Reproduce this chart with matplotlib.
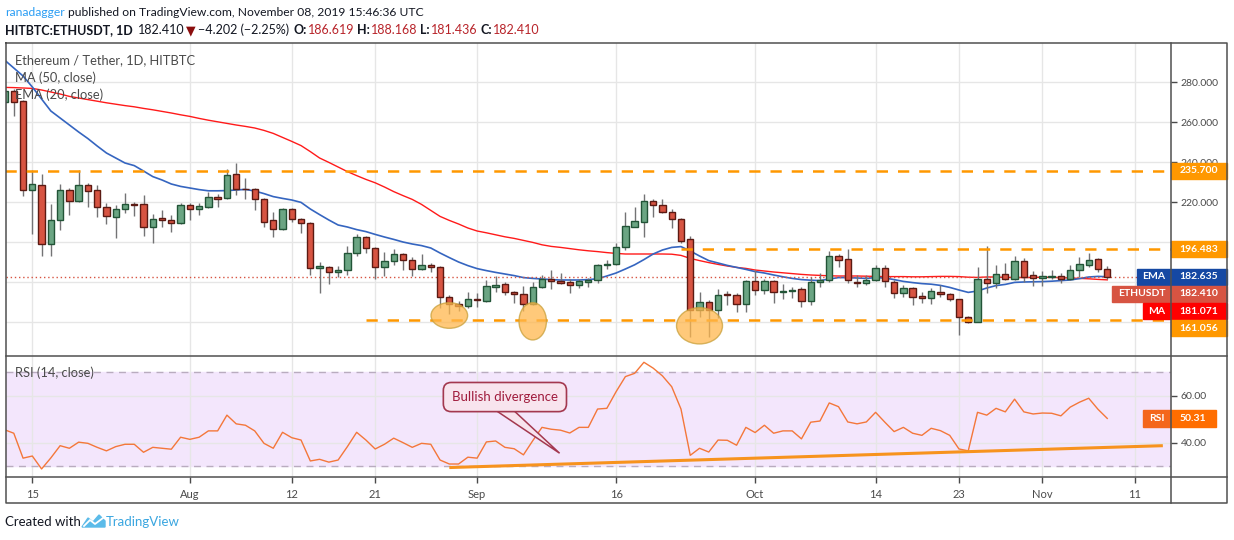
import numpy as np
import pandas as pd
import matplotlib
matplotlib.use('Agg')
import matplotlib.pyplot as plt
import matplotlib.transforms as mtransforms
from matplotlib.patches import Ellipse, Rectangle, Polygon
from matplotlib.lines import Line2D

plt.rcParams['font.family'] = ['Lato', 'DejaVu Sans']

# daily candles, HitBTC ETH/USDT, 2019-07-12 .. 2019-11-08
dates = pd.date_range('2019-07-12', '2019-11-08', freq='D')

opens = [270, 275.5, 270.5, 226, 228.5, 199, 211, 226, 220.7, 228.3,
         226, 217.3, 212.3, 216.3, 218.8, 218.8, 207.3, 211.8, 210.8, 209.7,
         218.5, 216.7, 217.7, 222.5, 221.8, 233.8, 226.7, 226.7, 221.3, 210.8,
         206.3, 216.3, 211.3, 209.3, 186.8, 187.7, 184.8, 185.8, 194.3, 202.3,
         196.8, 187.3, 190.3, 193.8, 190.8, 186.3, 188.3, 187.3, 172.7, 169,
         168.2, 171.7, 170.7, 177.7, 178.8, 174.8, 173.8, 168.8, 177.3, 181.3,
         180.5, 180, 178.3, 180.2, 180.8, 188.3, 188.8, 197.3, 207.7, 210.2,
         220.3, 218.3, 215.2, 211.3, 201.3, 166, 169.8, 166, 173.8, 173.3,
         168.8, 180.3, 175.8, 180.3, 174.8, 175.3, 176.3, 170.3, 179.8, 181,
         192.8, 191.3, 180.2, 179.3, 181, 186.8, 180.2, 174.3, 176.8, 173,
         171.8, 174.8, 173.8, 171.3, 162.3, 160.2, 181.3, 179.3, 183.8, 181.3,
         190.3, 183.3, 181.8, 182.3, 183, 181.3, 186, 188.3, 191.3, 186.619]
highs = [277, 276.5, 271, 236, 234, 219, 229, 227, 236, 229.5,
         228.3, 219.3, 218.5, 224.5, 220, 223.5, 214, 216, 213.7, 219.5,
         219.3, 219.3, 225.2, 224, 236.7, 239.3, 232, 227.2, 221.8, 215,
         217, 217.2, 212, 210, 190.2, 188, 188, 198, 204, 203,
         197.3, 194.8, 196.3, 194.3, 192.3, 193.8, 189.3, 188, 173.5, 170.7,
         174.8, 174.3, 181, 183, 179.8, 175.5, 178, 180, 183.5, 186,
         184.3, 181.3, 181.3, 182, 189, 191, 199.7, 215.2, 217.7, 224,
         221.3, 221.3, 216.3, 211.8, 203, 174.8, 171, 176.7, 175.5, 174.7,
         181, 186, 181.7, 181, 179, 177.5, 177.3, 182.3, 184.3, 195.7,
         194, 196.5, 183.3, 183.3, 188.5, 188.5, 181, 178.5, 177.7, 175.2,
         177, 178.5, 174.5, 171.5, 163.2, 187.7, 198, 188.5, 189.3, 193,
         191.8, 185.7, 185.7, 186, 184.3, 188.5, 192.7, 194.3, 191.8, 188.168]
lows = [266, 263, 223, 204, 193, 193, 206, 213.5, 220, 217.5,
        212.7, 209, 202, 214.5, 213, 203, 199.3, 207.3, 205.2, 209,
        211, 213.5, 217, 217.7, 221.5, 223.5, 221.3, 216, 207.7, 202.7,
        206, 210, 204.3, 183.5, 174.7, 178.8, 182.5, 183.5, 193.2, 194.7,
        181.3, 183, 188.5, 186, 183, 186, 185.2, 166.8, 163.8, 165.7,
        166.8, 167.7, 170.2, 175.2, 173.5, 169.7, 165.5, 168.3, 176.8, 176.3,
        179, 174.3, 177, 177.3, 179.5, 186.3, 188.5, 196, 207.5, 202.7,
        212.7, 214.7, 206.8, 199.3, 152.3, 162.3, 152.7, 161.8, 168.3, 164.8,
        165.2, 173.5, 174.2, 169.7, 171.3, 172, 167.7, 168.5, 177.7, 180.2,
        187.3, 179.7, 177.7, 178.3, 180.7, 177.7, 171.8, 172.7, 168.5, 169.7,
        169, 172.7, 170.7, 153.5, 159.3, 160, 174.7, 176.8, 181, 181,
        180.2, 178, 178, 181.5, 179.3, 181, 182.3, 187.7, 185.2, 181.436]
closes = [275.5, 270, 226, 229, 199, 211, 226, 220.5, 228.3, 225.3,
          217.3, 212.8, 216.3, 218.8, 218.4, 207.3, 211.3, 210.8, 209.7, 218.5,
          216.7, 218, 222.5, 221.7, 233.3, 226.3, 226.3, 221.3, 210.2, 206.3,
          216.3, 211.3, 209.3, 186.8, 188, 184.8, 186, 194.3, 202.3, 196.8,
          187.3, 190.3, 193.8, 190.8, 186.3, 188.3, 187.3, 172.7, 169, 168.2,
          171.3, 171, 178, 178.5, 174.8, 173.8, 168.8, 177.3, 181.3, 180.5,
          179.7, 178.3, 180.5, 180.8, 188.3, 189, 197.3, 208, 210.3, 220.3,
          218.3, 215.2, 211.3, 200.7, 166, 169.8, 166, 173.3, 173.3, 168.8,
          180.3, 175.8, 180.3, 174.8, 175.3, 176, 170.3, 179.8, 181, 192.8,
          191, 181, 179.3, 181, 186.8, 180.5, 174.3, 176.8, 172.7, 171.8,
          175.5, 173.8, 171.3, 162.3, 160.2, 181.3, 179.3, 183.8, 181.3, 190.3,
          182.7, 181.8, 183, 183, 181.3, 186, 188.8, 191, 186.6, 182.41]

ma50 = [277.3, 277.2, 277, 276.8, 276, 275, 274, 272.8, 272, 271.2,
        270.4, 269.6, 268.9, 268.2, 267.6, 266.8, 266.1, 265.3, 264.5, 263.6,
        262.8, 261.8, 260.9, 260.1, 259.3, 258.5, 257.8, 257, 255.8, 254.3,
        252.3, 250.3, 248.2, 245.2, 242, 239.8, 237.5, 235.2, 233.2, 231.3,
        229.6, 227.5, 225.2, 223.2, 221.3, 218.8, 215.8, 212.8, 210.8, 209,
        207, 205.5, 204.6, 203.6, 202.6, 201.8, 200.8, 199.8, 198.6, 197.8,
        197.3, 196.7, 196.1, 195.6, 195.2, 194.7, 194.3, 194, 194, 194,
        194, 194, 193.9, 193.3, 191.8, 190.7, 189.7, 188.8, 188, 187.3,
        186.8, 186, 185.5, 185, 184.6, 184.2, 183.8, 183.5, 183.3, 183.1,
        183, 183, 183, 182.9, 182.8, 182.7, 182.7, 182.7, 182.6, 182.6,
        182.7, 182.8, 182.8, 182.7, 182.4, 182.3, 182.5, 182.5, 182.3, 182.3,
        182.2, 182.3, 182.4, 182.3, 182.2, 182, 181.8, 181.6, 181.3, 181.071]
ema20 = [291, 287, 283, 277.5, 271.5, 265.5, 262, 258.5, 255, 251.7,
         248, 244.5, 242, 239.5, 238.2, 235.5, 232.7, 231, 229, 227.8,
         227, 226.2, 225.6, 225.6, 225.7, 226, 226.3, 225.5, 224.2, 222.7,
         221.8, 221, 219.8, 216.5, 213.7, 211, 208.5, 207.5, 206.2, 205.2,
         203.8, 202.5, 201.3, 200, 199, 198.2, 197, 194.5, 192.2, 190,
         188.2, 186.7, 185.7, 184.8, 184, 183.2, 182.2, 181.8, 181.5, 181.2,
         181, 181, 181, 181.2, 181.6, 183, 184.5, 186.5, 188.6, 191.2,
         194, 196, 197.3, 197.7, 195.5, 193, 190.7, 189.5, 188.3, 187.3,
         186.3, 185.2, 184.5, 183.5, 182.6, 181.8, 181.2, 180.9, 180.7, 181.5,
         182.2, 182.2, 182, 181.8, 182.2, 182, 181.2, 180.3, 179.7, 179.2,
         178.9, 178.3, 177.3, 176, 174.8, 175.5, 177, 178.2, 178.8, 179.8,
         180, 180.1, 180.2, 180.4, 180.7, 181, 181.7, 182.5, 182.8, 182.635]
rsi14 = [45.5, 44.0, 33.4, 34.3, 28.8, 33.5, 38.7, 37.6, 40.2, 39.7,
         38.0, 36.5, 38.3, 39.3, 39.3, 35.9, 38.0, 37.6, 37.2, 42.3,
         41.4, 42.3, 45.0, 45.0, 51.7, 48.0, 47.4, 45.0, 39.7, 37.6,
         44.4, 42.1, 41.1, 32.2, 32.9, 31.7, 32.6, 38.3, 44.4, 41.1,
         37.3, 39.3, 41.9, 40.0, 38.0, 39.7, 39.3, 32.6, 30.9, 30.9,
         33.8, 33.4, 40.3, 40.7, 38.0, 37.4, 34.8, 40.8, 46.5, 45.7,
         45.3, 44.1, 46.5, 46.5, 54.3, 54.6, 61.7, 68.1, 69.5, 74.2,
         71.7, 68.4, 63.8, 54.3, 34.6, 37.6, 36.0, 41.1, 41.0, 38.9,
         46.5, 44.3, 47.4, 44.0, 45.0, 45.0, 41.6, 48.7, 49.2, 56.9,
         55.3, 48.8, 48.0, 48.8, 52.9, 48.7, 44.7, 46.5, 44.0, 43.1,
         46.1, 45.1, 43.1, 37.3, 36.5, 52.9, 51.7, 54.6, 53.1, 58.5,
         53.1, 52.2, 52.6, 52.5, 51.4, 55.1, 57.2, 58.9, 54.2, 50.31]

tick_dates = ['2019-07-15', '2019-08-01', '2019-08-12', '2019-08-21', '2019-09-01', '2019-09-16',
              '2019-10-01', '2019-10-14', '2019-10-23', '2019-11-01', '2019-11-11']
tick_labels = ['15', 'Aug', '12', '21', 'Sep', '16', 'Oct', '14', '23', 'Nov', '11']

price_ticks = [160, 180, 200, 220, 240, 260, 280]
# 160/180/200 sit under the price tags in the original, so no label is shown
price_tick_labels = ['', '', '', '220.000', '240.000', '260.000', '280.000']

levels = [235.7, 196.483, 161.056]
level_starts = ['2019-07-12', '2019-09-23', '2019-08-20']

# orange ellipses around the lows: (date, price, width in days, height in $)
circles = [('2019-08-29', 163.25, 3.95, 12.8), ('2019-09-07', 160.35, 2.96, 18.65),
           ('2019-09-25', 158.1, 4.96, 18.15)]
# rsi trend line end points
rsi_trend = [('2019-08-29', 29.4), ('2019-11-14', 38.7)]

W, H = 1234, 540
UP, DOWN = '#6ba583', '#d75442'
UP_EDGE, DOWN_EDGE = '#225437', '#5b1a13'
TXT = '#4a4a4a'
GRID = '#e6e6e6'


def fx(px):
    return px / W


def fy(py):
    return 1 - py / H


def day(d):
    return (pd.Timestamp(d) - dates[0]).days


x = np.arange(len(dates))
o, h, l, c = map(np.array, (opens, highs, lows, closes))
up = c >= o

fig = plt.figure(figsize=(W / 100, H / 100), dpi=100)
ax = fig.add_axes([fx(6), fy(355.7), fx(1171) - fx(6), (355.7 - 43.3) / H])
rsi = fig.add_axes([fx(6), fy(476.7), fx(1171) - fx(6), (476.7 - 355.7) / H], sharex=ax)

xmin, xmax = 0.16, 125.88
tick_pos = [day(d) for d in tick_dates]

for a in (ax, rsi):
    a.set_xlim(xmin, xmax)
    for s in a.spines.values():
        s.set_visible(False)
    a.yaxis.tick_right()
    a.tick_params(axis='y', length=4, width=1, color=TXT, labelcolor=TXT, labelsize=7.5, pad=3)
    a.set_xticks(tick_pos)
    a.grid(True, color=GRID, lw=1)
    a.set_axisbelow(True)

ax.tick_params(axis='x', length=0, labelbottom=False)
rsi.set_xticklabels(tick_labels)
rsi.tick_params(axis='x', length=4, width=1, color=TXT, labelcolor=TXT, labelsize=8, pad=5)

# ---- price panel
ax.set_ylim(143.15, 299.35)
ax.set_yticks(price_ticks)
ax.set_yticklabels(price_tick_labels)

ax.plot(x, ma50, color='#ff1a1a', lw=1.0, zorder=2)
ax.plot(x, ema20, color='#3565c0', lw=1.2, zorder=2)

ax.vlines(x, l, h, color='#737375', lw=1, zorder=3)
body = np.maximum(np.abs(c - o), 0.45)
ax.bar(x, body, bottom=np.minimum(o, c), width=0.68,
       color=np.where(up, UP, DOWN), edgecolor=np.where(up, UP_EDGE, DOWN_EDGE),
       linewidth=1, zorder=4)

ax.axhline(closes[-1], color=DOWN, ls=(0, (1, 2)), lw=1, zorder=2)

for lv, st in zip(levels, level_starts):
    ax.hlines(lv, day(st), xmax, color='#ff9800', lw=1.8, linestyles=(0, (4.5, 4)), zorder=5)

for d, p, w, hh in circles:
    ax.add_patch(Ellipse((day(d), p), w, hh, facecolor='#ffb74d', alpha=0.75,
                         edgecolor='#c9a03a', lw=1, zorder=6))

# price tags on the right axis
trans = mtransforms.blended_transform_factory(ax.transAxes, ax.transData)


def tag(a, tr, y, value, color, hgt, name=None, left=None, right=1.048):
    a.add_patch(Rectangle((1.0, y - hgt / 2), right - 1.0, hgt, transform=tr, color=color,
                          clip_on=False, zorder=10))
    a.text((1.0 + right) / 2, y, value, transform=tr, ha='center', va='center', color='white',
           fontsize=7.5, fontweight='bold', clip_on=False, zorder=11)
    if name:
        a.add_patch(Rectangle((left, y - hgt / 2), 1.0 - left, hgt, transform=tr, color=color,
                              clip_on=False, zorder=10))
        a.text((left + 1.0) / 2, y, name, transform=tr, ha='center', va='center', color='white',
               fontsize=7.5, fontweight='bold', clip_on=False, zorder=11)


step = 8.6
tag(ax, trans, levels[0], '%.3f' % levels[0], '#ff9800', 8.0)
tag(ax, trans, levels[1], '%.3f' % levels[1], '#ff9800', 8.0)
tag(ax, trans, ema20[-1], '%.3f' % ema20[-1], '#1548a3', 8.0, 'EMA', 0.9706)
tag(ax, trans, ema20[-1] - step, '%.3f' % closes[-1], DOWN, 8.0, 'ETHUSDT', 0.9494)
tag(ax, trans, ema20[-1] - 2 * step, '%.3f' % ma50[-1], '#ff0000', 8.0, 'MA', 0.9757)
tag(ax, trans, ema20[-1] - 3 * step, '%.3f' % levels[2], '#ff9800', 8.0)

# ---- RSI panel
rsi.set_ylim(25.5, 77.0)
rsi.set_yticks([40, 60])
rsi.set_yticklabels(['40.00', '60.00'])
rsi.axhspan(30, 70, color='#f3e6fc', zorder=0)
for lv in (30, 70):
    rsi.axhline(lv, color='#b9acbf', lw=1, ls=(0, (5, 4)), zorder=1)
rsi.plot(x, rsi14, color='#f4773a', lw=1, zorder=3)
rsi.plot([day(d) for d, _ in rsi_trend], [v for _, v in rsi_trend],
         color='#f7931e', lw=2.2, solid_capstyle='butt', zorder=4)

rsi.add_patch(Polygon([(53.1, 53.5), (55.0, 53.5), (59.9, 35.5)], closed=True,
                      facecolor='#f8e4ee', edgecolor='#a3384f', lw=1.1, zorder=5))
rsi.text(54.0, 59.4, 'Bullish divergence', ha='center', va='center', fontsize=9.5,
         color='#a01c3c', zorder=6,
         bbox=dict(boxstyle='round,pad=0.65,rounding_size=0.6', fc='#f8e4ee', ec='#a3384f', lw=1.2))

rtrans = mtransforms.blended_transform_factory(rsi.transAxes, rsi.transData)
rsi.add_patch(Rectangle((0.9762, rsi14[-1] - 3.55), 1.0 - 0.9762, 7.1, transform=rtrans,
                        color='#f4661b', clip_on=False, zorder=10))
rsi.text(0.9881, rsi14[-1], 'RSI', transform=rtrans, ha='center', va='center', color='white',
         fontsize=7.5, fontweight='bold', clip_on=False, zorder=11)
rsi.add_patch(Rectangle((1.0, rsi14[-1] - 3.55), 0.0384, 7.1, transform=rtrans,
                        color='#ff6d00', clip_on=False, zorder=10))
rsi.text(1.0192, rsi14[-1], '%.2f' % rsi14[-1], transform=rtrans, ha='center', va='center',
         color='white', fontsize=7.5, fontweight='bold', clip_on=False, zorder=11)

# ---- frame lines
for xs, ys in [([6, 1227, 1227, 6, 6], [43.3, 43.3, 503, 503, 43.3]),
               ([1171, 1171], [43.3, 503]),
               ([6, 1227], [355.7, 355.7]),
               ([6, 1227], [476.7, 476.7])]:
    fig.add_artist(Line2D([fx(v) for v in xs], [fy(v) for v in ys], color='#505050', lw=1.1))

# ---- texts
renderer = fig.canvas.get_renderer()


def line_text(x_px, y_px, parts, size):
    for s, color, weight, gap in parts:
        t = fig.text(fx(x_px), fy(y_px), s, color=color, fontsize=size, fontweight=weight,
                     va='center', ha='left')
        x_px += t.get_window_extent(renderer).width + gap


dark = '#131722'
red = '#b8242a'
line_text(5, 12, [('ranadagger', '#2a9df4', 'normal', 3),
                  ('published on TradingView.com, November 08, 2019 15:46:36 UTC', dark, 'normal', 0)], 8.7)
line_text(5, 30, [('HITBTC:ETHUSDT, 1D', dark, 'bold', 5),
                  ('182.410', dark, 'normal', 2),
                  ('▼', '#8b0e0e', 'normal', 2),
                  ('−4.202 (−2.25%)', dark, 'normal', 4),
                  ('O:', dark, 'bold', 1), ('186.619', red, 'normal', 3),
                  ('H:', dark, 'bold', 1), ('188.168', red, 'normal', 3),
                  ('L:', dark, 'bold', 1), ('181.436', red, 'normal', 3),
                  ('C:', dark, 'bold', 1), ('182.410', red, 'normal', 0)], 9.0)

fig.text(fx(15), fy(60), 'Ethereum / Tether, 1D, HITBTC', color=TXT, fontsize=9.3, va='center')
fig.text(fx(15), fy(78), 'MA (50, close)', color=TXT, fontsize=9.3, va='center')
fig.text(fx(15), fy(95), 'EMA (20, close)', color=TXT, fontsize=9.3, va='center')
fig.text(fx(15), fy(373), 'RSI (14, close)', color=TXT, fontsize=9.3, va='center')

fig.text(fx(5), fy(522), 'Created with', color=dark, fontsize=9.5, va='center')
logo = [(82, 527), (88, 518), (93, 522), (99, 515), (105, 521), (105, 527)]
fig.add_artist(Polygon([(fx(a), fy(b)) for a, b in logo], closed=True, color='#5bbbe9',
                       transform=fig.transFigure))
fig.add_artist(Line2D([fx(84), fx(90), fx(95), fx(103)], [fy(526), fy(520), fy(524), fy(518)],
                      color='white', lw=1.3))
fig.text(fx(106), fy(522), 'TradingView', color='#3aa6e0', fontsize=9.5, va='center')

fig.savefig('out.png', dpi=100, facecolor='white')
